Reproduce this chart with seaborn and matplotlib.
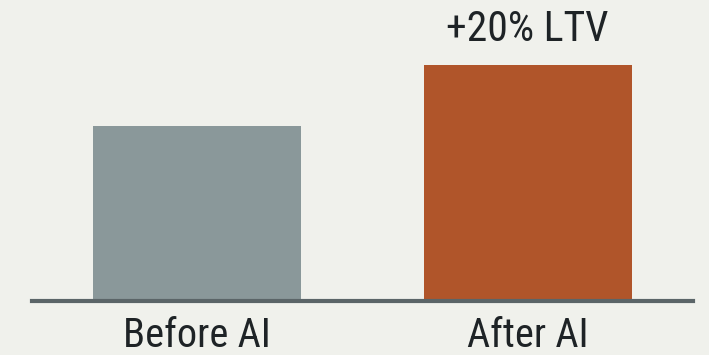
import matplotlib
matplotlib.use("Agg")
import matplotlib.pyplot as plt
from matplotlib import font_manager
import seaborn as sns
import pandas as pd

# Data
categories = ["Before AI", "After AI"]
values = [100, 135]
bar_colors = ["#8a989a", "#b0552a"]
annotation = "+20% LTV"

sns.set_theme(style="white")
names = {f.name for f in font_manager.fontManager.ttflist}
family = None
for cand in ["Roboto Condensed", "Liberation Sans Narrow", "Roboto", "DejaVu Sans"]:
    if cand in names:
        family = cand
        break
plt.rcParams["font.family"] = [family, "DejaVu Sans"]

bg = "#f0f1ec"
fig = plt.figure(figsize=(7.09, 3.55), dpi=100, facecolor=bg)
ax = fig.add_axes([32 / 709, 54 / 355, 661 / 709, 301 / 355], facecolor=bg)

df = pd.DataFrame({"cat": categories, "val": values})
sns.barplot(data=df, x="cat", y="val", hue="cat", palette=bar_colors,
            width=0.63, legend=False, ax=ax, saturation=1, linewidth=0)

ax.set_xlim(-0.5, 1.5)
ax.set_ylim(0, 172)
for s in ["top", "left", "right"]:
    ax.spines[s].set_visible(False)
ax.spines["bottom"].set_color("#5b6568")
ax.spines["bottom"].set_linewidth(3)
ax.spines["bottom"].set_zorder(5)
ax.set_yticks([])
ax.set_xlabel("")
ax.set_ylabel("")
ax.tick_params(axis="x", length=0, pad=10.5, labelsize=29, labelcolor="#1e2326")

ax.text(1, 155, annotation, ha="center", va="center", fontsize=30,
        color="#1e2326")

fig.savefig("out.png", dpi=100, facecolor=bg)
